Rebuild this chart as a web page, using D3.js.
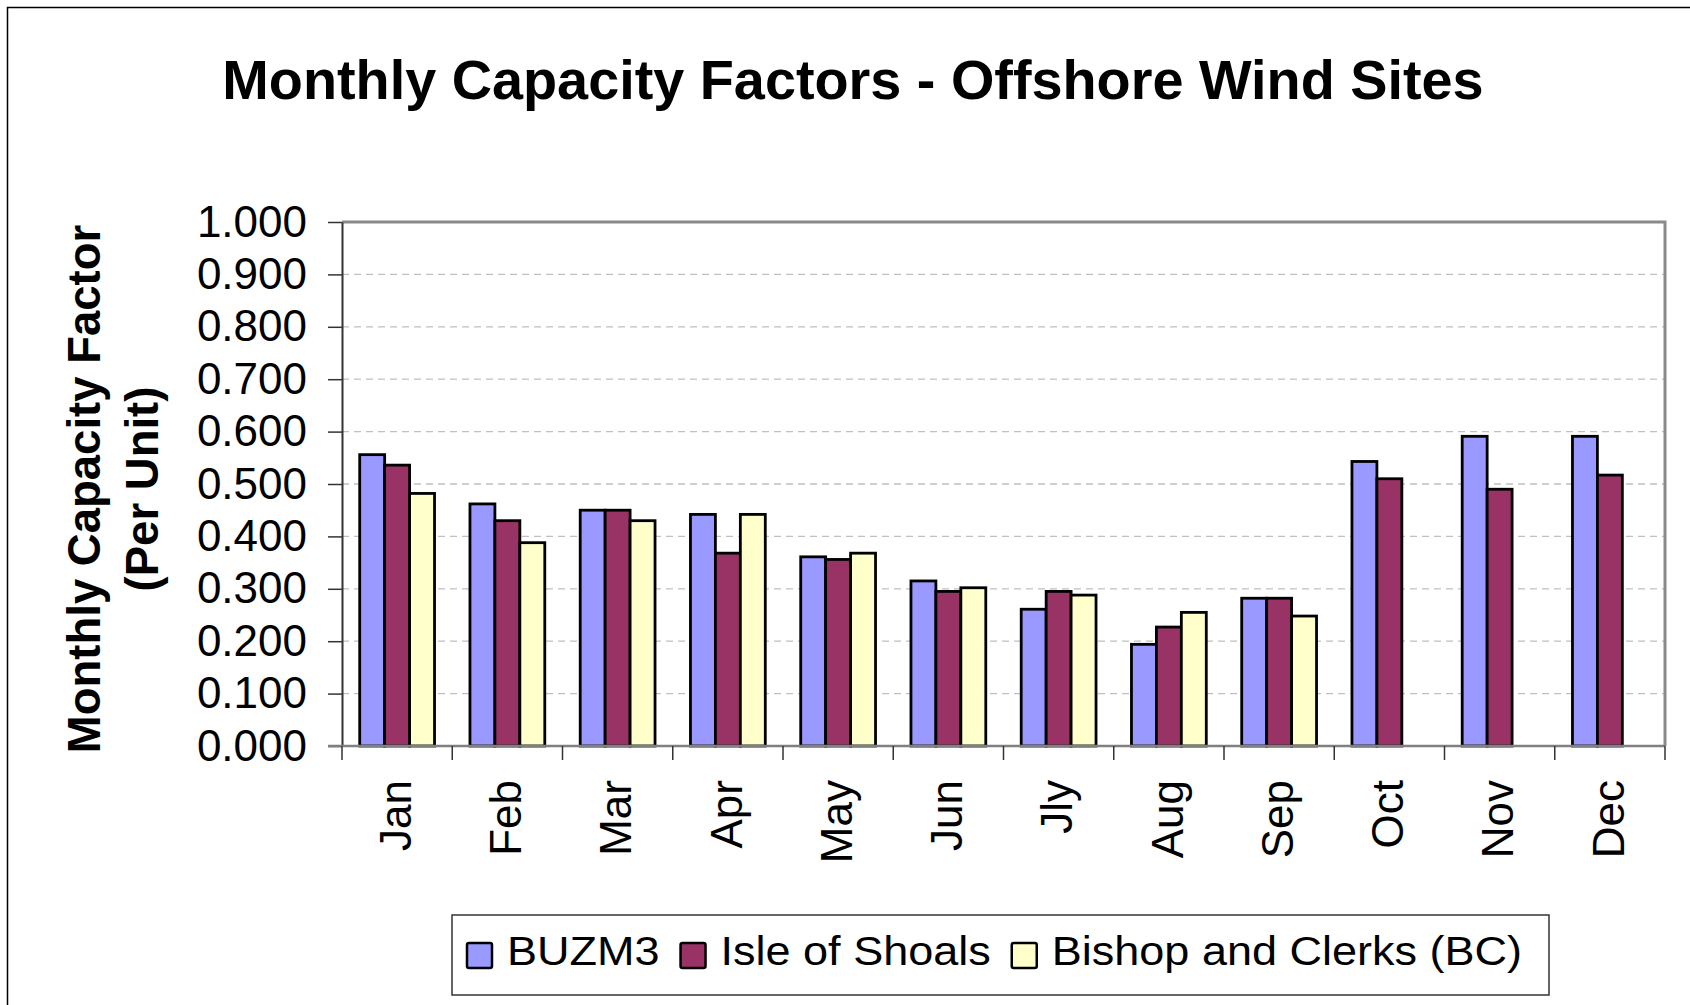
<!DOCTYPE html>
<html>
<head>
<meta charset="utf-8">
<script src="https://cdn.jsdelivr.net/npm/d3@7"></script>
<style>
  body { margin: 0; background: #fff; }
  svg { display: block; font-family: "Liberation Sans", Arial, sans-serif; }
</style>
</head>
<body>
<svg id="chart" width="1690" height="1005"></svg>
<script>
// Chart data
const months = ["Jan", "Feb", "Mar", "Apr", "May", "Jun", "Jly", "Aug", "Sep", "Oct", "Nov", "Dec"];
const seriesNames = ["BUZM3", "Isle of Shoals", "Bishop and Clerks (BC)"];
const buzm3 = [0.556, 0.462, 0.450, 0.442, 0.361, 0.315, 0.261, 0.194, 0.282, 0.543, 0.591, 0.591];
const isleOfShoals = [0.536, 0.430, 0.450, 0.368, 0.356, 0.295, 0.295, 0.227, 0.282, 0.510, 0.490, 0.517];
const bishopClerks = [0.482, 0.388, 0.430, 0.442, 0.368, 0.302, 0.288, 0.255, 0.248, null, null, null];
const yTicks = [0, 0.1, 0.2, 0.3, 0.4, 0.5, 0.6, 0.7, 0.8, 0.9, 1.0];

// Excel 2003 palette
const seriesColors = ["#9999ff", "#993366", "#ffffcc"];

const plot = { left: 342, right: 1665, top: 222, bottom: 746 };

const svg = d3.select("#chart");

// outer chart frame (right and bottom edges fall outside the picture)
svg.append("rect")
    .attr("x", 7.5).attr("y", 7.5)
    .attr("width", 1700).attr("height", 1020)
    .attr("fill", "#fff")
    .attr("stroke", "#000")
    .attr("stroke-width", 1.5);

// title
svg.append("text")
    .attr("x", 853).attr("y", 99)
    .attr("text-anchor", "middle")
    .attr("font-size", 55.8)
    .attr("font-weight", "bold")
    .text("Monthly Capacity Factors - Offshore Wind Sites");

const x0 = d3.scaleBand()
    .domain(months)
    .range([plot.left, plot.right])
    .padding(0);

const x1 = d3.scaleBand()
    .domain(seriesNames)
    .range([0, x0.bandwidth()])
    .paddingInner(0)
    .paddingOuter(0.71);

const y = d3.scaleLinear()
    .domain([0, 1])
    .range([plot.bottom, plot.top]);

// dashed grid lines
svg.append("g")
    .selectAll("line")
    .data(yTicks.filter(t => t > 0 && t < 1))
    .enter()
    .append("line")
    .attr("x1", plot.left).attr("x2", plot.right)
    .attr("y1", d => y(d)).attr("y2", d => y(d))
    .attr("stroke", "#c0c0c0")
    .attr("stroke-width", 1.3)
    .attr("stroke-dasharray", "7,5");

// plot area border (top and right)
svg.append("path")
    .attr("d", `M${plot.left},${plot.top}H${plot.right}V${plot.bottom}`)
    .attr("fill", "none")
    .attr("stroke", "#8a8a8a")
    .attr("stroke-width", 3);

// bars
const seriesValues = [buzm3, isleOfShoals, bishopClerks];
const barData = [];
months.forEach((m, i) => {
    seriesNames.forEach((s, k) => {
        const v = seriesValues[k][i];
        if (v !== null) barData.push({ month: m, series: s, value: v, color: seriesColors[k] });
    });
});

svg.append("g")
    .selectAll("rect")
    .data(barData)
    .enter()
    .append("rect")
    .attr("x", d => x0(d.month) + x1(d.series))
    .attr("y", d => y(d.value))
    .attr("width", x1.bandwidth())
    .attr("height", d => y(0) - y(d.value))
    .attr("fill", d => d.color)
    .attr("stroke", "#000")
    .attr("stroke-width", 2.8);

// y axis
const yAxis = svg.append("g")
    .attr("transform", `translate(${plot.left},0)`)
    .call(d3.axisLeft(y)
        .tickValues(yTicks)
        .tickFormat(d3.format(".3f"))
        .tickSizeInner(14)
        .tickSizeOuter(0)
        .tickPadding(21));
yAxis.select(".domain").attr("stroke", "#333").attr("stroke-width", 2);
yAxis.selectAll(".tick line").attr("stroke", "#333").attr("stroke-width", 1.5);
yAxis.selectAll(".tick text")
    .attr("font-size", 44)
    .attr("font-family", "Liberation Sans, Arial, sans-serif")
    .attr("fill", "#000");

// x axis line and category boundary ticks
svg.append("line")
    .attr("x1", plot.left - 14).attr("x2", plot.right)
    .attr("y1", plot.bottom).attr("y2", plot.bottom)
    .attr("stroke", "#808080")
    .attr("stroke-width", 2.5);

const boundaries = months.map(m => x0(m)).concat([plot.right]);
svg.append("g")
    .selectAll("line")
    .data(boundaries)
    .enter()
    .append("line")
    .attr("x1", d => d).attr("x2", d => d)
    .attr("y1", plot.bottom).attr("y2", plot.bottom + 14)
    .attr("stroke", "#333")
    .attr("stroke-width", 1.5);

// rotated month labels
svg.append("g")
    .selectAll("text")
    .data(months)
    .enter()
    .append("text")
    .attr("transform", d => `translate(${x0(d) + x0.bandwidth() / 2 - 2},780) rotate(-90)`)
    .attr("text-anchor", "end")
    .attr("dy", "0.36em")
    .attr("font-size", 44)
    .text(d => d);

// y axis title
const yTitle = svg.append("text")
    .attr("transform", "translate(0,489) rotate(-90)")
    .attr("text-anchor", "middle")
    .attr("font-size", 45.5)
    .attr("font-weight", "bold");
yTitle.append("tspan").attr("x", 0).attr("y", 100).text("Monthly Capacity Factor");
yTitle.append("tspan").attr("x", 0).attr("y", 158).text("(Per Unit)");

// legend (text in the original is slightly stretched horizontally)
const legend = svg.append("g");
legend.append("rect")
    .attr("x", 452).attr("y", 915)
    .attr("width", 1097).attr("height", 80)
    .attr("fill", "#fff")
    .attr("stroke", "#333")
    .attr("stroke-width", 1.5);

const stretch = 1.085;
let lx = 467;
seriesNames.forEach((name, k) => {
    legend.append("rect")
        .attr("x", lx).attr("y", 943)
        .attr("width", 25).attr("height", 25)
        .attr("rx", 2)
        .attr("fill", seriesColors[k])
        .attr("stroke", "#000")
        .attr("stroke-width", 2.5);
    const t = legend.append("text")
        .attr("transform", `translate(${lx + 40},965) scale(${stretch},1)`)
        .attr("font-size", 41.5)
        .text(name);
    lx += 40 + t.node().getComputedTextLength() * stretch + 21;
});
</script>
</body>
</html>
